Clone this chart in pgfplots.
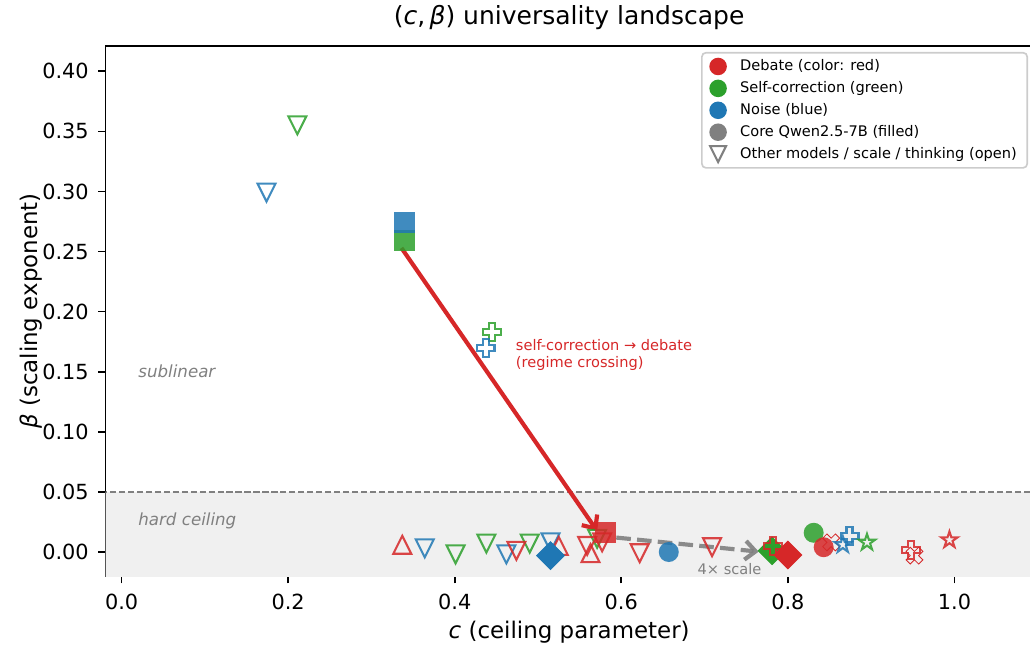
\documentclass[border=0pt]{standalone}
\usepackage{pgfplots}
\pgfplotsset{compat=1.18}
\usepackage{fontspec}
\setmainfont{DejaVu Sans}
\usetikzlibrary{arrows.meta}

\definecolor{cred}{HTML}{D62728}
\definecolor{cgreen}{HTML}{2CA02C}
\definecolor{cblue}{HTML}{1F77B4}
\definecolor{bandgray}{RGB}{240,240,240}
\definecolor{legbord}{RGB}{204,204,204}

\makeatletter
\pgfdeclareplotmark{mtridown}{%
  \pgfpathmoveto{\pgfqpoint{0pt}{-\pgfplotmarksize}}%
  \pgfpathlineto{\pgfqpoint{-\pgfplotmarksize}{\pgfplotmarksize}}%
  \pgfpathlineto{\pgfqpoint{\pgfplotmarksize}{\pgfplotmarksize}}%
  \pgfpathclose\pgfusepathqstroke}
\pgfdeclareplotmark{mtriup}{%
  \pgfpathmoveto{\pgfqpoint{0pt}{\pgfplotmarksize}}%
  \pgfpathlineto{\pgfqpoint{-\pgfplotmarksize}{-\pgfplotmarksize}}%
  \pgfpathlineto{\pgfqpoint{\pgfplotmarksize}{-\pgfplotmarksize}}%
  \pgfpathclose\pgfusepathqstroke}
\pgfdeclareplotmark{mplus}{%
  \pgfpathmoveto{\pgfqpoint{-0.3333\pgfplotmarksize}{-\pgfplotmarksize}}%
  \pgfpathlineto{\pgfqpoint{0.3333\pgfplotmarksize}{-\pgfplotmarksize}}%
  \pgfpathlineto{\pgfqpoint{0.3333\pgfplotmarksize}{-0.3333\pgfplotmarksize}}%
  \pgfpathlineto{\pgfqpoint{\pgfplotmarksize}{-0.3333\pgfplotmarksize}}%
  \pgfpathlineto{\pgfqpoint{\pgfplotmarksize}{0.3333\pgfplotmarksize}}%
  \pgfpathlineto{\pgfqpoint{0.3333\pgfplotmarksize}{0.3333\pgfplotmarksize}}%
  \pgfpathlineto{\pgfqpoint{0.3333\pgfplotmarksize}{\pgfplotmarksize}}%
  \pgfpathlineto{\pgfqpoint{-0.3333\pgfplotmarksize}{\pgfplotmarksize}}%
  \pgfpathlineto{\pgfqpoint{-0.3333\pgfplotmarksize}{0.3333\pgfplotmarksize}}%
  \pgfpathlineto{\pgfqpoint{-\pgfplotmarksize}{0.3333\pgfplotmarksize}}%
  \pgfpathlineto{\pgfqpoint{-\pgfplotmarksize}{-0.3333\pgfplotmarksize}}%
  \pgfpathlineto{\pgfqpoint{-0.3333\pgfplotmarksize}{-0.3333\pgfplotmarksize}}%
  \pgfpathclose\pgfusepathqstroke}
\pgfdeclareplotmark{mstar}{%
  \pgfpathmoveto{\pgfpointpolar{90}{\pgfplotmarksize}}%
  \pgfpathlineto{\pgfpointpolar{126}{0.382\pgfplotmarksize}}%
  \pgfpathlineto{\pgfpointpolar{162}{\pgfplotmarksize}}%
  \pgfpathlineto{\pgfpointpolar{198}{0.382\pgfplotmarksize}}%
  \pgfpathlineto{\pgfpointpolar{234}{\pgfplotmarksize}}%
  \pgfpathlineto{\pgfpointpolar{270}{0.382\pgfplotmarksize}}%
  \pgfpathlineto{\pgfpointpolar{306}{\pgfplotmarksize}}%
  \pgfpathlineto{\pgfpointpolar{342}{0.382\pgfplotmarksize}}%
  \pgfpathlineto{\pgfpointpolar{18}{\pgfplotmarksize}}%
  \pgfpathlineto{\pgfpointpolar{54}{0.382\pgfplotmarksize}}%
  \pgfpathclose\pgfusepathqstroke}
\makeatother

\pgfplotsset{
  core/.style={only marks, forget plot, color=#1,
    mark options={fill=#1, draw=#1, fill opacity=0.85, draw opacity=0}},
  open/.style={only marks, forget plot, color=#1,
    mark options={draw=#1, line width=1pt, draw opacity=0.85}},
}

\begin{document}
\begin{tikzpicture}
\begin{axis}[
  at={(0,0)}, anchor=south west,
  scale only axis, width=445pt, height=254.4pt,
  xmin=-0.0192, xmax=1.094, ymin=-0.020, ymax=0.421,
  axis line style={line width=0.8pt},
  tick align=outside, major tick length=3.5pt,
  every tick/.style={line width=0.8pt, black},
  xtick={0,0.2,0.4,0.6,0.8,1.0},
  ytick={0,0.05,0.10,0.15,0.20,0.25,0.30,0.35,0.40},
  xtick pos=bottom, ytick pos=left,
  minor tick num=0,
  /pgf/number format/assume math mode=true,
  xticklabel={\pgfmathprintnumber[fixed,fixed zerofill,precision=1,assume math mode=true]{\tick}},
  yticklabel={\pgfmathprintnumber[fixed,fixed zerofill,precision=2,assume math mode=true]{\tick}},
  ticklabel style={font=\fontsize{10}{12}\selectfont},
  xticklabel style={anchor=base, yshift=-12.6pt},
  yticklabel style={anchor=east, inner sep=0pt, xshift=-4.4pt},
  title={(\textit{c},\,\textit{β}) universality landscape},
  title style={at={(axis description cs:0.5,1)}, anchor=base, yshift=4.4pt, font=\fontsize{12}{14}\selectfont},
  xlabel={\textit{c} (ceiling parameter)},
  xlabel style={at={(axis description cs:0.5,0)}, anchor=base, yshift=-29.8pt, font=\fontsize{11}{13}\selectfont},
  ylabel={\textit{β} (scaling exponent)},
  ylabel style={at={(axis description cs:-0.074,0.5)}, anchor=base, font=\fontsize{11}{13}\selectfont},
  legend style={at={(axis description cs:0.995,0.989)}, anchor=north east,
    font=\fontsize{7}{8.4}\selectfont, draw=legbord, line width=0.8pt,
    rounded corners=2pt, fill=white, fill opacity=0.8, text opacity=1,
    inner xsep=3pt, inner ysep=1.2pt, row sep=-0.3pt},
  legend cell align=left,
  legend image code/.code={%
    \path[draw=none, fill=none] (0pt,-2pt) rectangle (13.4pt,2pt);
    \draw[#1] plot coordinates {(4.8pt,0pt)};},
]
% shaded hard-ceiling band
\fill[bandgray] (axis cs:-0.1,-0.1) rectangle (axis cs:1.2,0.05);
\draw[gray, line width=0.8pt, dash pattern=on 3pt off 1.3pt] (axis cs:-0.1,0.05) -- (axis cs:1.2,0.05);

\addlegendimage{only marks, mark=*, mark size=3.8pt, color=cred, mark options={fill opacity=1, draw opacity=1}}
\addlegendentry{Debate (color: red)}
\addlegendimage{only marks, mark=*, mark size=3.8pt, color=cgreen, mark options={fill opacity=1, draw opacity=1}}
\addlegendentry{Self-correction (green)}
\addlegendimage{only marks, mark=*, mark size=3.8pt, color=cblue, mark options={fill opacity=1, draw opacity=1}}
\addlegendentry{Noise (blue)}
\addlegendimage{only marks, mark=*, mark size=3.8pt, color=gray, mark options={fill opacity=1, draw opacity=1}}
\addlegendentry{Core Qwen2.5-7B (filled)}
\addlegendimage{only marks, mark=mtridown, mark size=3.8pt, color=gray, mark options={line width=1pt, draw opacity=1}}
\addlegendentry{Other models / scale / thinking (open)}

% open triangles down
\addplot[open=cgreen, mark=mtridown, mark size=4.3pt] coordinates {(0.211,0.355) (0.401,-0.002) (0.438,0.007) (0.490,0.007) (0.571,0.011)};
\addplot[open=cblue, mark=mtridown, mark size=4.3pt] coordinates {(0.174,0.299) (0.364,0.003) (0.462,-0.002) (0.515,0.008)};
\addplot[open=cred, mark=mtridown, mark size=4.3pt] coordinates {(0.474,0.001) (0.559,0.005) (0.577,0.008) (0.622,-0.001) (0.709,0.004)};
% open triangles up
\addplot[open=cred, mark=mtriup, mark size=4.3pt] coordinates {(0.337,0.006) (0.525,0.005) (0.563,-0.001)};

% core filled squares, circles, diamonds
\addplot[core=cgreen, mark=square*, mark size=5pt] coordinates {(0.340,0.259)};
\addplot[core=cblue, mark=square*, mark size=5pt] coordinates {(0.340,0.274)};
\addplot[core=cred, mark=square*, mark size=5pt] coordinates {(0.581,0.016)};
\addplot[core=cblue, mark=*, mark size=4.8pt] coordinates {(0.657,0.000)};
\addplot[core=cgreen, mark=*, mark size=4.8pt] coordinates {(0.831,0.016)};
\addplot[core=cred, mark=*, mark size=4.8pt] coordinates {(0.843,0.004)};
\addplot[core=cblue, mark=square*, mark size=4.7pt, mark options={rotate=45}] coordinates {(0.515,-0.003)};
\addplot[core=cgreen, mark=square*, mark size=4.7pt, mark options={rotate=45}] coordinates {(0.781,0.001)};
\addplot[core=cred, mark=square*, mark size=4.7pt, mark options={rotate=45}] coordinates {(0.800,-0.0025)};

% open plus (P) markers
\addplot[open=cgreen, mark=mplus, mark size=4.3pt] coordinates {(0.445,0.183)};
\addplot[open=cblue, mark=mplus, mark size=4.3pt] coordinates {(0.437,0.170) (0.874,0.013)};
\addplot[open=cred, mark=mplus, mark size=4.3pt] coordinates {(0.782,0.005) (0.948,0.002)};
% open X markers
\addplot[open=cred, mark=mplus, mark size=4.3pt, mark options={rotate=45}] coordinates {(0.852,0.008) (0.952,-0.003)};
% open stars
\addplot[open=cblue, mark=mstar, mark size=4.1pt] coordinates {(0.866,0.006)};
\addplot[open=cgreen, mark=mstar, mark size=4.1pt] coordinates {(0.895,0.008)};
\addplot[open=cred, mark=mstar, mark size=4.1pt] coordinates {(0.994,0.010)};

% arrows and annotations
\draw[cred, line width=2pt, -{Straight Barb[length=5pt,width=9pt]}] (axis cs:0.336,0.253) -- (axis cs:0.571,0.0175);
\draw[gray, opacity=0.9, line width=2pt, dash pattern=on 7pt off 3pt, -{Straight Barb[length=5pt,width=9pt]}] (axis cs:0.594,0.012) -- (axis cs:0.765,0.0003);
\node[gray, font=\fontsize{7}{8.4}\selectfont, inner sep=0pt] at (axis cs:0.730,-0.0141) {4× scale};
\node[cred, font=\fontsize{7}{8.4}\selectfont, anchor=west, align=left, inner sep=0pt] at (axis cs:0.473,0.164) {self-correction → debate\\(regime crossing)};
\node[gray, font=\fontsize{8}{9.6}\selectfont\itshape, anchor=west, inner sep=0pt] at (axis cs:0.0196,0.1505) {sublinear};
\node[gray, font=\fontsize{8}{9.6}\selectfont\itshape, anchor=west, inner sep=0pt] at (axis cs:0.0196,0.0258) {hard ceiling};
\end{axis}
\pgfresetboundingbox
\useasboundingbox (-50.7pt,-34.1pt) rectangle (443.7pt,276.5pt);
\end{tikzpicture}
\end{document}
